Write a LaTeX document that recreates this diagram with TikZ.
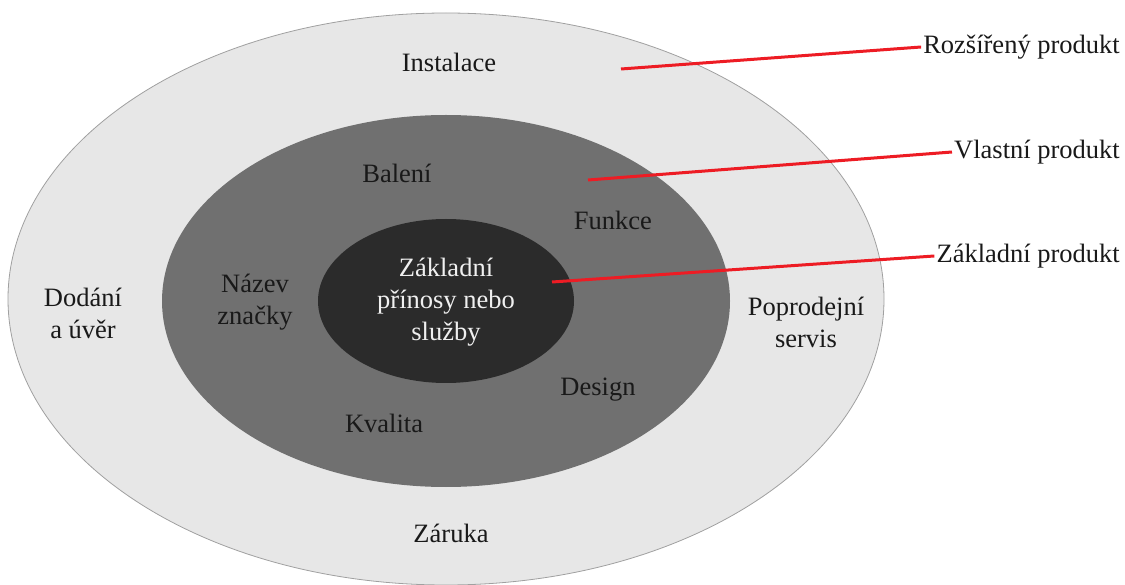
\documentclass[tikz,border=0pt]{standalone}
\usepackage{fontspec}
\setmainfont{Liberation Serif}
\definecolor{ringout}{RGB}{231,231,231}
\definecolor{ringedge}{RGB}{160,160,160}
\definecolor{ringmid}{RGB}{112,112,112}
\definecolor{ringcore}{RGB}{43,43,43}
\definecolor{pointred}{RGB}{237,28,36}
\definecolor{coretext}{RGB}{240,240,240}
\begin{document}
\begin{tikzpicture}[x=1pt, y=-1pt,
  lbl/.style={font=\fontsize{26.5}{32}\selectfont, text=black!90, align=center, inner sep=2pt},
  pointer/.style={draw=pointred, line width=3pt}]
  \useasboundingbox (0,0) rectangle (1125,585);

  % nested product levels
  \filldraw[fill=ringout, draw=ringedge, line width=0.8pt]
    (446,299) ellipse [x radius=438, y radius=286];
  \fill[ringmid] (446,301) ellipse [x radius=284, y radius=186];
  \fill[ringcore] (446,301) ellipse [x radius=128, y radius=82];

  % outer ring: augmented product
  \node[lbl] (inst) at (449,62) {Instalace};
  \node[lbl] (dod) at (83,313) {Dodání\\a úvěr};
  \node[lbl] (popr) at (806,322) {Poprodejní\\servis};
  \node[lbl] (zar) at (451,533) {Záruka};

  % middle ring: actual product
  \node[lbl] (bal) at (397,173) {Balení};
  \node[lbl] (fun) at (613,220) {Funkce};
  \node[lbl] (naz) at (255,302) {Název\\značky};
  \node[lbl] (des) at (598,390) {Design};
  \node[lbl] (kva) at (384,423) {Kvalita};

  % core
  \node[lbl, text=coretext] (core) at (446,302) {Základní\\přínosy nebo\\služby};

  % level names
  \node[lbl, anchor=east] (rozs) at (1122,47) {Rozšířený produkt};
  \node[lbl, anchor=east] (vlas) at (1122,152) {Vlastní produkt};
  \node[lbl, anchor=east] (zakl) at (1122,256) {Základní produkt};

  \coordinate (p1) at (621,69);
  \coordinate (p2) at (588,180);
  \coordinate (p3) at (552,282);

  \draw[pointer] (p1) -- (rozs.west);
  \draw[pointer] (p2) -- (vlas.west);
  \draw[pointer] (p3) -- (zakl.west);
\end{tikzpicture}
\end{document}
